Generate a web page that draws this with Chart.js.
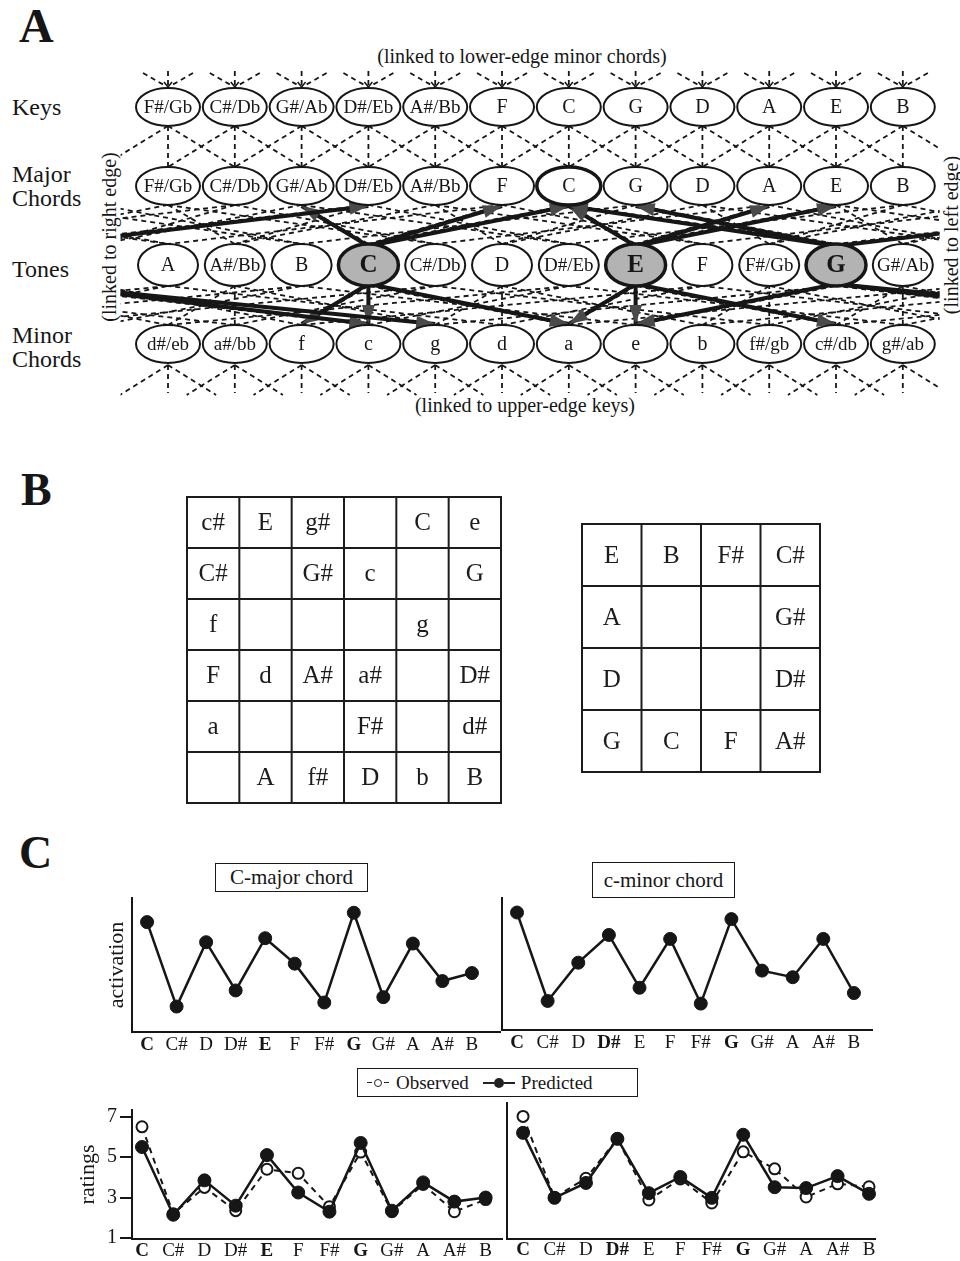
<!DOCTYPE html>
<html><head><meta charset="utf-8">
<script src="https://cdn.jsdelivr.net/npm/chart.js@4.4.1/dist/chart.umd.min.js"></script>
<style>
html,body{margin:0;padding:0;background:#fff}
body{position:relative;width:960px;height:1261px;overflow:hidden;font-family:"Liberation Serif","Times New Roman",serif;color:#161616}
canvas{position:absolute}
.t{position:absolute;line-height:1;white-space:nowrap}
.box{position:absolute;border:1.6px solid #1a1a1a;box-sizing:border-box;display:flex;align-items:center;justify-content:center;font-size:21px;white-space:nowrap}
.rot{position:absolute;transform:translate(-50%,-50%) rotate(-90deg);white-space:nowrap;font-size:20px;line-height:1}
.sym{display:inline-flex;align-items:center}
.dsh{display:inline-block;width:5px;height:1.6px;background:#222;margin:0 2px}
.oc{display:inline-block;width:6px;height:6px;border:1.5px solid #222;border-radius:50%}
.ln{display:inline-block;width:11px;height:2px;background:#222}
.fc{display:inline-block;width:10px;height:10px;border-radius:50%;background:#222}
</style></head><body>

<!-- Panel A labels -->
<div class="t" style="left:19px;top:2px;font-size:48px;font-weight:bold">A</div>
<div class="t" style="left:222px;width:600px;text-align:center;top:46px;font-size:20px">(linked to lower-edge minor chords)</div>
<div class="t" style="left:12px;top:95px;font-size:24px">Keys</div>
<div class="t" style="left:12px;top:162px;font-size:24px;line-height:24px">Major<br>Chords</div>
<div class="t" style="left:12px;top:257px;font-size:24px">Tones</div>
<div class="t" style="left:12px;top:323px;font-size:24px;line-height:24px">Minor<br>Chords</div>
<div class="rot" style="left:109px;top:237px">(linked to right edge)</div>
<div class="rot" style="left:951px;top:235px">(linked to left edge)</div>
<div class="t" style="left:225px;width:600px;text-align:center;top:395px;font-size:20px">(linked to upper-edge keys)</div>
<canvas id="net" width="960" height="440" style="left:0;top:0"></canvas>

<!-- Panel B -->
<div class="t" style="left:21px;top:467px;font-size:46px;font-weight:bold">B</div>
<canvas id="gridA" width="318" height="310" style="left:185px;top:495px"></canvas>
<canvas id="gridB" width="242" height="252" style="left:580px;top:522px"></canvas>

<!-- Panel C -->
<div class="t" style="left:19px;top:830px;font-size:46px;font-weight:bold">C</div>
<div class="box" style="left:215px;top:863px;width:153px;height:29px">C-major chord</div>
<div class="box" style="left:592px;top:862px;width:143px;height:36px">c-minor chord</div>
<canvas id="actMaj" width="450" height="175" style="left:60px;top:890px"></canvas>
<canvas id="actMin" width="395" height="175" style="left:490px;top:890px"></canvas>
<div class="box" style="left:357px;top:1068px;width:281px;height:29px;font-size:19px;justify-content:flex-start;padding-left:7px">
  <span class="sym"><i class="dsh"></i><i class="oc"></i><i class="dsh"></i></span><span style="margin-left:5px">Observed</span>
  <span class="sym" style="margin-left:14px"><i class="ln"></i><i class="fc"></i><i class="ln"></i></span><span style="margin-left:6px">Predicted</span>
</div>
<canvas id="ratMaj" width="450" height="166" style="left:60px;top:1095px"></canvas>
<canvas id="ratMin" width="390" height="166" style="left:495px;top:1095px"></canvas>

<script>
// ---------------- DATA ----------------
const keyLabels   = ['F#/Gb','C#/Db','G#/Ab','D#/Eb','A#/Bb','F','C','G','D','A','E','B'];
const majorLabels = ['F#/Gb','C#/Db','G#/Ab','D#/Eb','A#/Bb','F','C','G','D','A','E','B'];
const toneLabels  = ['A','A#/Bb','B','C','C#/Db','D','D#/Eb','E','F','F#/Gb','G','G#/Ab'];
const minorLabels = ['d#/eb','a#/bb','f','c','g','d','a','e','b','f#/gb','c#/db','g#/ab'];
const activeTones = ['C','E','G'];
const activeMajor = ['C'];

const gridLeft = [
  ['c#','E','g#','','C','e'],
  ['C#','','G#','c','','G'],
  ['f','','','','g',''],
  ['F','d','A#','a#','','D#'],
  ['a','','','F#','','d#'],
  ['','A','f#','D','b','B']
];
const gridRight = [
  ['E','B','F#','C#'],
  ['A','','','G#'],
  ['D','','','D#'],
  ['G','C','F','A#']
];

const notes = ['C','C#','D','D#','E','F','F#','G','G#','A','A#','B'];
const boldMajor = ['C','E','G'];
const boldMinor = ['C','D#','G'];
const activationMajor = [0.82,0.19,0.67,0.31,0.70,0.51,0.22,0.89,0.26,0.66,0.38,0.44];
const activationMinor = [0.89,0.22,0.51,0.72,0.32,0.69,0.20,0.84,0.45,0.40,0.69,0.28];
const observedMajor  = [6.5,2.2,3.5,2.35,4.4,4.2,2.55,5.25,2.3,3.65,2.3,2.9];
const predictedMajor = [5.5,2.15,3.85,2.6,5.1,3.25,2.3,5.7,2.35,3.75,2.8,3.0];
const observedMinor  = [6.7,2.9,3.8,5.65,2.78,3.77,2.64,5.04,4.24,2.92,3.54,3.4];
const predictedMinor = [5.93,2.88,3.58,5.65,3.1,3.86,2.88,5.84,3.38,3.34,3.9,3.07];
const ratingTicks = [1,3,5,7];

// ---------------- HELPERS ----------------
const SERIF = '"Liberation Serif","Times New Roman",serif';
const INK = '#161616';
const toneIndex = name => toneLabels.findIndex(t => t.toLowerCase() === name.toLowerCase());
const majorTriads = majorLabels.map(l => { const r = toneIndex(l); return [r,(r+4)%12,(r+7)%12]; });
const minorTriads = minorLabels.map(l => { const r = toneIndex(l); return [r,(r+3)%12,(r+7)%12]; });
const baseOpts = {responsive:false, animation:false, devicePixelRatio:1, events:[],
  plugins:{legend:{display:false}, tooltip:{enabled:false}}};

// ---------------- PANEL A ----------------
const networkPlugin = {
  id:'network',
  afterDatasetsDraw(chart){
    const ctx = chart.ctx, xs = chart.scales.x, ys = chart.scales.y;
    const X = v => xs.getPixelForValue(v), Y = v => ys.getPixelForValue(v);
    const RX=32, RY=19, TRX=30, TRY=21;
    const yK=Y(3), yM=Y(2), yT=Y(1), yN=Y(0);
    const L=X(-0.71), R=X(11.55);
    const seg=(x1,y1,x2,y2)=>{ctx.beginPath();ctx.moveTo(x1,y1);ctx.lineTo(x2,y2);ctx.stroke();};
    const wrapped=(s,t,fn)=>{let d=t-s; if(d>6)d-=12; if(d<-6)d+=12; if(d===-6)d=6; const e=s+d; fn(s,e); if(e>11.5) fn(s-12,e-12); if(e<-0.5) fn(s+12,e+12);};
    const arrow=(x1,y1,x2,y2)=>{
      ctx.setLineDash([]); ctx.lineWidth=4; ctx.strokeStyle=INK;
      seg(x1,y1,x2,y2);
      const a=Math.atan2(y2-y1,x2-x1), len=19, hw=6.5;
      const bx=x2-Math.cos(a)*len, by=y2-Math.sin(a)*len;
      ctx.beginPath(); ctx.moveTo(x2,y2);
      ctx.lineTo(bx+Math.sin(a)*hw, by-Math.cos(a)*hw);
      ctx.lineTo(bx-Math.sin(a)*hw, by+Math.cos(a)*hw);
      ctx.closePath(); ctx.fillStyle='#4a4a4a'; ctx.fill();
    };
    ctx.save();
    ctx.beginPath(); ctx.rect(L,0,R-L,chart.height); ctx.clip();
    ctx.strokeStyle=INK; ctx.lineWidth=1.8; ctx.setLineDash([5,4]);
    for(let i=0;i<12;i++){
      const x=X(i), t=yK-RY;
      seg(x-25,t-15,x-4,t-3); seg(x,t-17,x,t-2); seg(x+25,t-15,x+4,t-3);
      ctx.save(); ctx.setLineDash([]); ctx.lineWidth=1.5;
      ctx.beginPath(); ctx.moveTo(x-4,t-6); ctx.lineTo(x,t-1); ctx.lineTo(x+4,t-6); ctx.stroke(); ctx.restore();
      seg(x,yK+RY,x,yM-RY); seg(x,yK+RY,X(i+1),yM-RY); seg(x,yK+RY,X(i-1),yM-RY);
      const b=yN+RY;
      seg(x,b+2,x,b+30); seg(x,b+2,X(i+0.72),b+32); seg(x,b+2,X(i-0.72),b+32);
    }
    majorTriads.forEach((tri,j)=>tri.forEach(c=>wrapped(j,c,(a,b)=>seg(X(a),yM+RY,X(b),yT-TRY))));
    minorTriads.forEach((tri,j)=>tri.forEach(c=>wrapped(j,c,(a,b)=>seg(X(a),yN-RY,X(b),yT+TRY))));
    activeTones.forEach(name=>{
      const c=toneLabels.indexOf(name);
      majorTriads.forEach((tri,j)=>{ if(tri.includes(c)) wrapped(c,j,(a,b)=>arrow(X(a),yT-TRY+2,X(b),yM+RY+1)); });
      minorTriads.forEach((tri,j)=>{ if(tri.includes(c)) wrapped(c,j,(a,b)=>arrow(X(a),yT+TRY-2,X(b),yN-RY-1)); });
    });
    ctx.restore();

    const drawNode=(p,label,rx,ry,o)=>{
      ctx.save(); ctx.setLineDash([]);
      ctx.beginPath(); ctx.ellipse(p.x,p.y,rx,ry,0,0,Math.PI*2);
      ctx.fillStyle=o.fill||'#fff'; ctx.fill();
      ctx.lineWidth=o.lw||2; ctx.strokeStyle=INK; ctx.stroke();
      ctx.fillStyle=INK; ctx.font=(o.bold?'bold ':'')+o.size+'px '+SERIF;
      ctx.textAlign='center'; ctx.textBaseline='middle';
      const w=ctx.measureText(label).width, maxW=rx*2-8;
      if(w>maxW){ctx.translate(p.x,p.y+1);ctx.scale(maxW/w,1);ctx.fillText(label,0,0);}
      else ctx.fillText(label,p.x,p.y+1);
      ctx.restore();
    };
    const sets=[keyLabels,majorLabels,toneLabels,minorLabels];
    sets.forEach((labels,k)=>{
      const meta=chart.getDatasetMeta(k);
      labels.forEach((lab,i)=>{
        const p=meta.data[i];
        const sz = lab.length>2 ? 19 : 20;
        if(k===2){
          const act=activeTones.includes(lab);
          drawNode(p,lab,TRX,TRY,act?{fill:'#b3b3b3',lw:3.5,bold:true,size:25}:{size:sz});
        } else if(k===1){
          drawNode(p,lab,RX,RY,{size:sz,lw:activeMajor.includes(lab)?3.5:2});
        } else drawNode(p,lab,RX,RY,{size:sz});
      });
    });
  }
};
new Chart(document.getElementById('net'),{
  type:'scatter',
  data:{datasets:[
    {label:'Keys', data:keyLabels.map((n,i)=>({x:i,y:3}))},
    {label:'Major Chords', data:majorLabels.map((n,i)=>({x:i,y:2}))},
    {label:'Tones', data:toneLabels.map((n,i)=>({x:i,y:1}))},
    {label:'Minor Chords', data:minorLabels.map((n,i)=>({x:i,y:0}))}
  ]},
  options:Object.assign({},baseOpts,{
    layout:{padding:0},
    elements:{point:{radius:0,hoverRadius:0}},
    scales:{x:{type:'linear',display:false,min:-2.515,max:11.856},
            y:{type:'linear',display:false,min:-1.215,max:4.354}}
  }),
  plugins:[networkPlugin]
});

// ---------------- PANEL B ----------------
function gridChart(id, cells, fontSize){
  const rows=cells.length, cols=cells[0].length, pts=[];
  cells.forEach((row,r)=>row.forEach((t,c)=>{ if(t) pts.push({x:c+0.5,y:r+0.5,t}); }));
  const plug={id:'cells',
    beforeDatasetsDraw(chart){
      const ctx=chart.ctx, X=v=>chart.scales.x.getPixelForValue(v), Y=v=>chart.scales.y.getPixelForValue(v);
      ctx.save(); ctx.strokeStyle='#1c1c1c'; ctx.lineWidth=2;
      for(let i=0;i<=cols;i++){ctx.beginPath();ctx.moveTo(X(i),Y(0)-1);ctx.lineTo(X(i),Y(rows)+1);ctx.stroke();}
      for(let j=0;j<=rows;j++){ctx.beginPath();ctx.moveTo(X(0)-1,Y(j));ctx.lineTo(X(cols)+1,Y(j));ctx.stroke();}
      ctx.restore();
    },
    afterDatasetsDraw(chart){
      const ctx=chart.ctx, meta=chart.getDatasetMeta(0);
      ctx.save(); ctx.fillStyle='#1c1c1c'; ctx.font=fontSize+'px '+SERIF; ctx.textAlign='center'; ctx.textBaseline='middle';
      meta.data.forEach((p,k)=>ctx.fillText(pts[k].t,p.x,p.y+1));
      ctx.restore();
    }};
  new Chart(document.getElementById(id),{
    type:'scatter',
    data:{datasets:[{data:pts,pointRadius:0}]},
    options:Object.assign({},baseOpts,{layout:{padding:2},
      scales:{x:{type:'linear',display:false,min:0,max:cols},y:{type:'linear',display:false,min:0,max:rows,reverse:true}}}),
    plugins:[plug]
  });
}
gridChart('gridA',gridLeft,25);
gridChart('gridB',gridRight,25);

// ---------------- PANEL C ----------------
function lineChart(id,o){
  const datasets=o.series.map(s=>({
    data:s.values.map((v,i)=>({x:i,y:v})),
    borderColor:INK, borderWidth:s.lw, borderDash:s.dash||[],
    pointRadius:s.r, pointHoverRadius:s.r, pointBorderWidth:s.pbw, pointBackgroundColor:s.fill, pointBorderColor:INK,
    tension:0, fill:false, clip:false
  }));
  const yScale = {type:'linear', min:o.ymin, max:o.ymax,
    afterFit:s=>{s.width=o.yw;},
    border:{display:true,color:INK,width:2},
    grid:o.yticks?{display:true,drawOnChartArea:false,drawTicks:true,tickLength:12,color:INK,lineWidth:2}:{display:false,drawTicks:false},
    ticks:o.yticks?{display:true,color:INK,padding:3,font:{family:SERIF,size:20},callback:v=>String(v)}:{display:false},
    title:o.ytitle?{display:true,text:o.ytitle,color:INK,font:{family:SERIF,size:22},padding:{top:o.ytpad,bottom:0}}:{display:false}
  };
  if(o.yticks) yScale.afterBuildTicks=s=>{s.ticks=o.yticks.map(v=>({value:v}));};
  new Chart(document.getElementById(id),{
    type:'line',
    data:{datasets},
    options:Object.assign({},baseOpts,{
      layout:{padding:o.padding},
      scales:{
        x:{type:'linear',min:o.xmin,max:o.xmax,
          afterBuildTicks:s=>{s.ticks=notes.map((n,i)=>({value:i}));},
          afterFit:s=>{s.height=o.xh;},
          grid:{display:false,drawTicks:false},
          border:{display:true,color:INK,width:2},
          ticks:{autoSkip:false,maxRotation:0,minRotation:0,padding:o.xpad,color:INK,
            callback:v=>notes[v],
            font:c=>({family:SERIF,size:19,weight:(o.bold.includes(notes[c.index]))?'bold':'normal'})}
        },
        y:yScale
      }
    })
  });
}
const predStyle={lw:2.5,r:6.5,pbw:1,fill:INK};
const obsStyle={lw:2,r:5.5,pbw:2,fill:'#fff',dash:[6,5]};
lineChart('actMaj',{series:[Object.assign({values:activationMajor},predStyle)],
  ymin:0,ymax:1,yw:72,ytitle:'activation',ytpad:44,xmin:-0.51,xmax:11.95,xh:33,xpad:2,
  padding:{left:0,top:8,right:10,bottom:0},bold:boldMajor});
lineChart('actMin',{series:[Object.assign({values:activationMinor},predStyle)],
  ymin:0,ymax:1,yw:12,xmin:-0.49,xmax:11.59,xh:35,xpad:2,
  padding:{left:0,top:8,right:13,bottom:0},bold:boldMinor});
lineChart('ratMaj',{series:[Object.assign({values:predictedMajor},predStyle,{r:6.5}),Object.assign({values:observedMajor},obsStyle)],
  ymin:0.95,ymax:7.33,yw:72,yticks:ratingTicks,ytitle:'ratings',ytpad:15,xmin:-0.32,xmax:11.54,xh:22,xpad:1,
  padding:{left:0,top:8,right:5,bottom:0},bold:boldMajor});
lineChart('ratMin',{series:[Object.assign({values:predictedMinor},predStyle,{r:6.5}),Object.assign({values:observedMinor},obsStyle)],
  ymin:0.95,ymax:7.33,yw:12,xmin:-0.51,xmax:11.19,xh:22,xpad:0,
  padding:{left:0,top:8,right:10,bottom:0},bold:boldMinor});
</script>
</body></html>
